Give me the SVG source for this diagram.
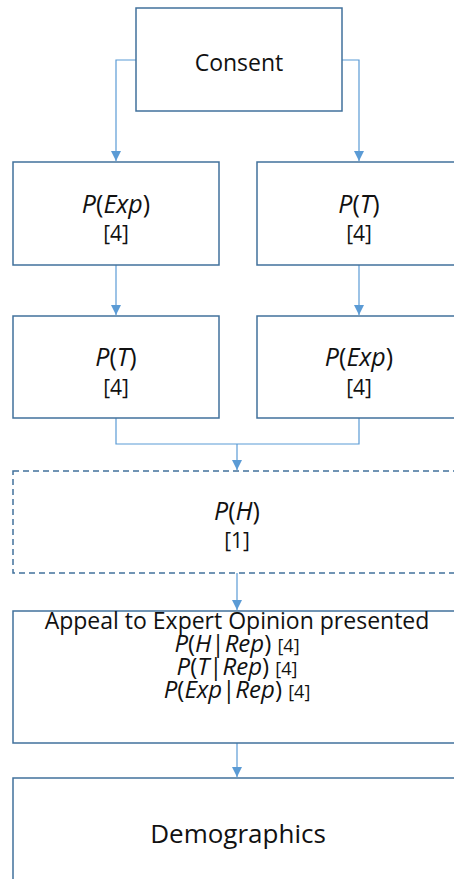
<svg xmlns="http://www.w3.org/2000/svg" width="454" height="879" viewBox="0 0 454 879">
<style>
.box{fill:#fff;stroke:#41719c;stroke-width:1.5}
.dash{fill:#fff;stroke:#41719c;stroke-width:1.5;stroke-dasharray:6 4}
.con{fill:none;stroke:#5b9bd5;stroke-width:1.2}
text{font-family:"Open Sans","Noto Sans",sans-serif;fill:#111;text-anchor:middle}
.t{font-size:23px}
.p{font-size:25px}
.s{font-size:21px}
.rl{font-size:24px}
.i{font-style:italic}
.n{font-size:18px}
</style>
<defs>
<marker id="ah" viewBox="0 0 10 10" refX="10" refY="5" markerWidth="10" markerHeight="10" markerUnits="userSpaceOnUse" orient="auto">
<path d="M0,0 L10,5 L0,10 z" fill="#5b9bd5"/>
</marker>
</defs>
<g id="connectors">
<path class="con" d="M136,60 H116 V161" marker-end="url(#ah)"/>
<path class="con" d="M342,60 H359 V161" marker-end="url(#ah)"/>
<path class="con" d="M116,265 V315" marker-end="url(#ah)"/>
<path class="con" d="M359,265 V315" marker-end="url(#ah)"/>
<path class="con" d="M116,418 V444 H359 V418"/>
<path class="con" d="M237,444 V470" marker-end="url(#ah)"/>
<path class="con" d="M237,573 V610" marker-end="url(#ah)"/>
<path class="con" d="M237,743 V777" marker-end="url(#ah)"/>
</g>
<g id="consent">
<rect class="box" x="136" y="8" width="206" height="103"/>
<text class="t" x="239" y="71">Consent</text>
</g>
<g id="pexp1">
<rect class="box" x="13" y="162" width="206" height="103"/>
<text class="p" x="116" y="213"><tspan class="i">P</tspan>(<tspan class="i">Exp</tspan>)</text>
<text class="s" x="116" y="241">[4]</text>
</g>
<g id="pt1">
<rect class="box" x="257" y="162" width="206" height="103"/>
<text class="p" x="359" y="213"><tspan class="i">P</tspan>(<tspan class="i">T</tspan>)</text>
<text class="s" x="359" y="241">[4]</text>
</g>
<g id="pt2">
<rect class="box" x="13" y="316" width="206" height="102"/>
<text class="p" x="116" y="366"><tspan class="i">P</tspan>(<tspan class="i">T</tspan>)</text>
<text class="s" x="116" y="395">[4]</text>
</g>
<g id="pexp2">
<rect class="box" x="257" y="316" width="206" height="102"/>
<text class="p" x="359" y="366"><tspan class="i">P</tspan>(<tspan class="i">Exp</tspan>)</text>
<text class="s" x="359" y="395">[4]</text>
</g>
<g id="ph">
<rect class="dash" x="13" y="471" width="450" height="102"/>
<text class="p" x="237" y="520"><tspan class="i">P</tspan>(<tspan class="i">H</tspan>)</text>
<text class="s" x="237" y="548">[1]</text>
</g>
<g id="appeal">
<rect class="box" x="13" y="611" width="450" height="132"/>
<text class="t" x="237" y="629">Appeal to Expert Opinion presented</text>
<text class="rl" x="237" y="652"><tspan class="i">P</tspan>(<tspan class="i">H</tspan>|<tspan class="i">Rep</tspan>) <tspan class="n">[4]</tspan></text>
<text class="rl" x="237" y="675"><tspan class="i">P</tspan>(<tspan class="i">T</tspan>|<tspan class="i">Rep</tspan>) <tspan class="n">[4]</tspan></text>
<text class="rl" x="237" y="698"><tspan class="i">P</tspan>(<tspan class="i">Exp</tspan>|<tspan class="i">Rep</tspan>) <tspan class="n">[4]</tspan></text>
</g>
<g id="demographics">
<rect class="box" x="13" y="778" width="450" height="120"/>
<text font-size="26" x="238" y="843">Demographics</text>
</g>
</svg>
